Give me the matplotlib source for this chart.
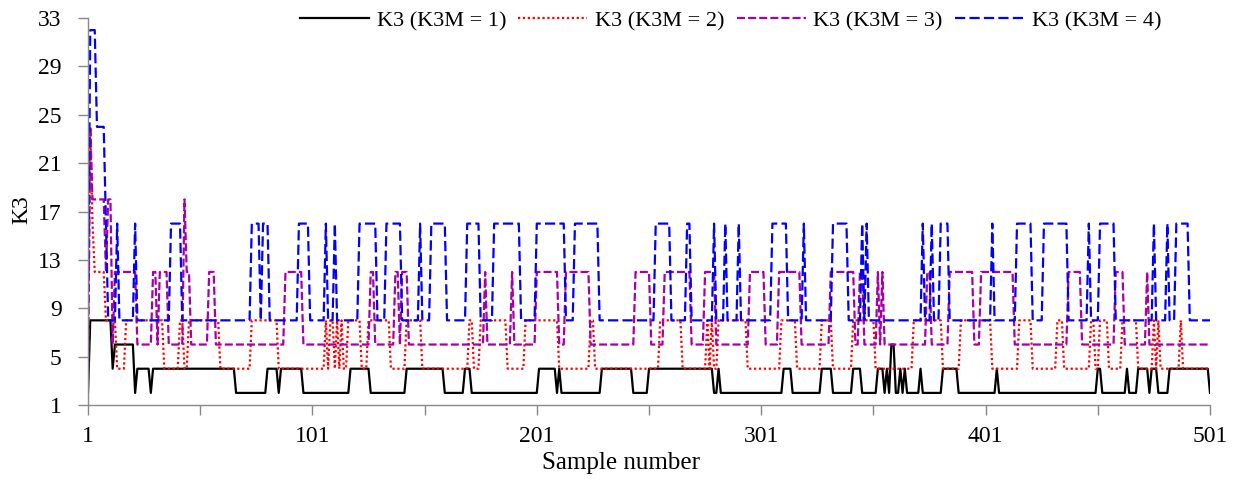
import numpy as np
import matplotlib
matplotlib.use("Agg")
import matplotlib.pyplot as plt
from matplotlib.ticker import FixedLocator

plt.rcParams["font.family"] = ["Liberation Serif", "DejaVu Serif"]

N_SAMPLES = 501

# Each series is stored as run starts (sample number) and the value held from that sample on.
k3m1_starts = [1, 2, 12, 13, 22, 23, 29, 30, 67, 81, 86, 87, 97, 118, 127, 143, 160, 169, 172,
               202, 210, 211, 212, 230, 244, 251, 280, 282, 283, 311, 315, 328, 333, 342, 346,
               353, 356, 357, 358, 359, 361, 363, 364, 365, 366, 372, 373, 382, 389, 406, 407,
               451, 453, 464, 465, 469, 474, 475, 478, 483, 501]
k3m1_values = [2, 8, 4, 6, 2, 4, 2, 4, 2, 4, 2, 4, 2, 4, 2, 4, 2, 4, 2,
               4, 2, 4, 2, 4, 2, 4, 2, 4, 2, 4, 2, 4, 2, 4, 2,
               4, 2, 4, 2, 6, 2, 4, 2, 4, 2, 4, 2, 4, 2, 4, 2,
               4, 2, 4, 2, 4, 2, 4, 2, 4, 2]

k3m2_starts = [1, 2, 3, 4, 9, 14, 18, 35, 42, 44, 46, 60, 74, 86, 107, 108, 109, 111, 112, 113,
               114, 115, 117, 123, 126, 136, 143, 150, 171, 173, 176, 188, 196, 211, 225, 227,
               256, 266, 277, 278, 279, 280, 282, 295, 310, 317, 328, 333, 342, 352, 369, 382,
               390, 404, 416, 422, 433, 436, 448, 450, 452, 456, 462, 469, 476, 477, 478, 479,
               488, 489]
k3m2_values = [8, 24, 16, 12, 8, 4, 8, 4, 8, 4, 8, 4, 8, 4, 8, 4, 8, 4, 8, 4,
               8, 4, 8, 4, 8, 4, 8, 4, 8, 4, 8, 4, 8, 4, 8, 4,
               8, 4, 8, 4, 8, 4, 8, 4, 8, 4, 8, 4, 8, 4, 8, 4,
               8, 4, 8, 4, 8, 4, 8, 4, 8, 4, 8, 4, 8, 4, 8, 4,
               8, 4]

k3m3_starts = [1, 2, 3, 9, 10, 12, 13, 23, 30, 32, 33, 37, 44, 45, 47, 55, 58, 89, 97, 127,
               129, 138, 140, 141, 144, 178, 179, 190, 191, 201, 211, 214, 225, 245, 252, 258,
               270, 276, 281, 296, 303, 309, 319, 332, 343, 345, 347, 353, 354, 355, 356, 375,
               377, 385, 396, 399, 414, 438, 444, 459, 463, 473, 474]
k3m3_values = [3, 24, 18, 12, 18, 6, 12, 6, 12, 6, 12, 6, 18, 12, 6, 12, 6, 12, 6, 12,
               6, 12, 6, 12, 6, 12, 6, 12, 6, 12, 6, 12, 6, 12, 6, 12,
               6, 12, 6, 12, 6, 12, 6, 12, 6, 12, 6, 12, 6, 12, 6, 12,
               6, 12, 6, 12, 6, 12, 6, 12, 6, 12, 6]

k3m4_starts = [1, 2, 5, 9, 10, 14, 15, 22, 23, 38, 43, 74, 78, 79, 82, 95, 100, 107, 108, 111,
               112, 122, 130, 134, 141, 149, 150, 154, 161, 170, 176, 182, 194, 201, 214, 218,
               229, 254, 261, 268, 270, 280, 281, 285, 286, 291, 292, 306, 313, 320, 321, 333,
               340, 346, 347, 348, 349, 373, 374, 377, 378, 381, 385, 404, 405, 415, 422, 427,
               438, 447, 448, 452, 459, 476, 477, 482, 483, 486, 492]
k3m4_values = [8, 32, 24, 16, 8, 16, 8, 16, 8, 16, 8, 16, 8, 16, 8, 16, 8, 16, 8, 16,
               8, 16, 8, 16, 8, 16, 8, 16, 8, 16, 8, 16, 8, 16, 8, 16,
               8, 16, 8, 16, 8, 16, 8, 16, 8, 16, 8, 16, 8, 16, 8, 16,
               8, 16, 8, 16, 8, 16, 8, 16, 8, 16, 8, 16, 8, 16, 8, 16,
               8, 16, 8, 16, 8, 16, 8, 16, 8, 16, 8]

series_labels = ["K3 (K3M = 1)", "K3 (K3M = 2)", "K3 (K3M = 3)", "K3 (K3M = 4)"]
x_ticks = [1, 101, 201, 301, 401, 501]
x_minor_ticks = [51, 151, 251, 351, 451]
y_ticks = [1, 5, 9, 13, 17, 21, 25, 29, 33]


def expand(starts, values, n=N_SAMPLES):
    starts = np.asarray(starts)
    lengths = np.diff(np.append(starts, n + 1))
    return np.repeat(np.asarray(values, dtype=float), lengths)


samples = np.arange(1, N_SAMPLES + 1)
series = [expand(k3m1_starts, k3m1_values), expand(k3m2_starts, k3m2_values),
          expand(k3m3_starts, k3m3_values), expand(k3m4_starts, k3m4_values)]

styles = [
    dict(color="#000000", lw=1.6, linestyle="-"),
    dict(color="#FF0000", lw=1.6, linestyle=(0, (1, 1.2))),
    dict(color="#A600A6", lw=1.6, linestyle=(0, (3.6, 1.4))),
    dict(color="#0000FF", lw=1.6, linestyle=(0, (4.6, 1.9))),
]

W, H = 1241, 480
fig = plt.figure(figsize=(W / 100, H / 100), dpi=100)
x0, x1, ytop, ybot = 88, 1210, 18, 405
ax = fig.add_axes([x0 / W, 1 - ybot / H, (x1 - x0) / W, (ybot - ytop) / H])

for y, lab, st in zip(series, series_labels, styles):
    ax.plot(samples, y, label=lab, **st)

ax.set_xlim(1, 501)
ax.set_ylim(1, 33)
ax.set_xticks(x_ticks)
ax.xaxis.set_minor_locator(FixedLocator(x_minor_ticks))
ax.set_yticks(y_ticks)

for side in ("top", "right"):
    ax.spines[side].set_visible(False)
for side in ("left", "bottom"):
    ax.spines[side].set_color("#898989")
    ax.spines[side].set_linewidth(1.0)

ax.tick_params(axis="both", which="both", direction="out", color="#898989",
               labelsize=17, length=7, width=1.0)
ax.tick_params(axis="x", which="major", pad=8)
ax.tick_params(axis="y", which="major", pad=12)

fig.text(621 / W, 1 - 463 / H, "Sample number", fontsize=18, ha="center", va="center")
fig.text(22 / W, 1 - 210 / H, "K3", fontsize=17, ha="center", va="center", rotation=90)

fig.legend(*ax.get_legend_handles_labels(), loc="center left",
           bbox_to_anchor=(300 / W, 1 - 21 / H), bbox_transform=fig.transFigure,
           ncol=4, frameon=False, borderpad=0, borderaxespad=0,
           fontsize=16, handlelength=3.1, columnspacing=0.55, handletextpad=0.35)

fig.savefig("out.png", dpi=100)
